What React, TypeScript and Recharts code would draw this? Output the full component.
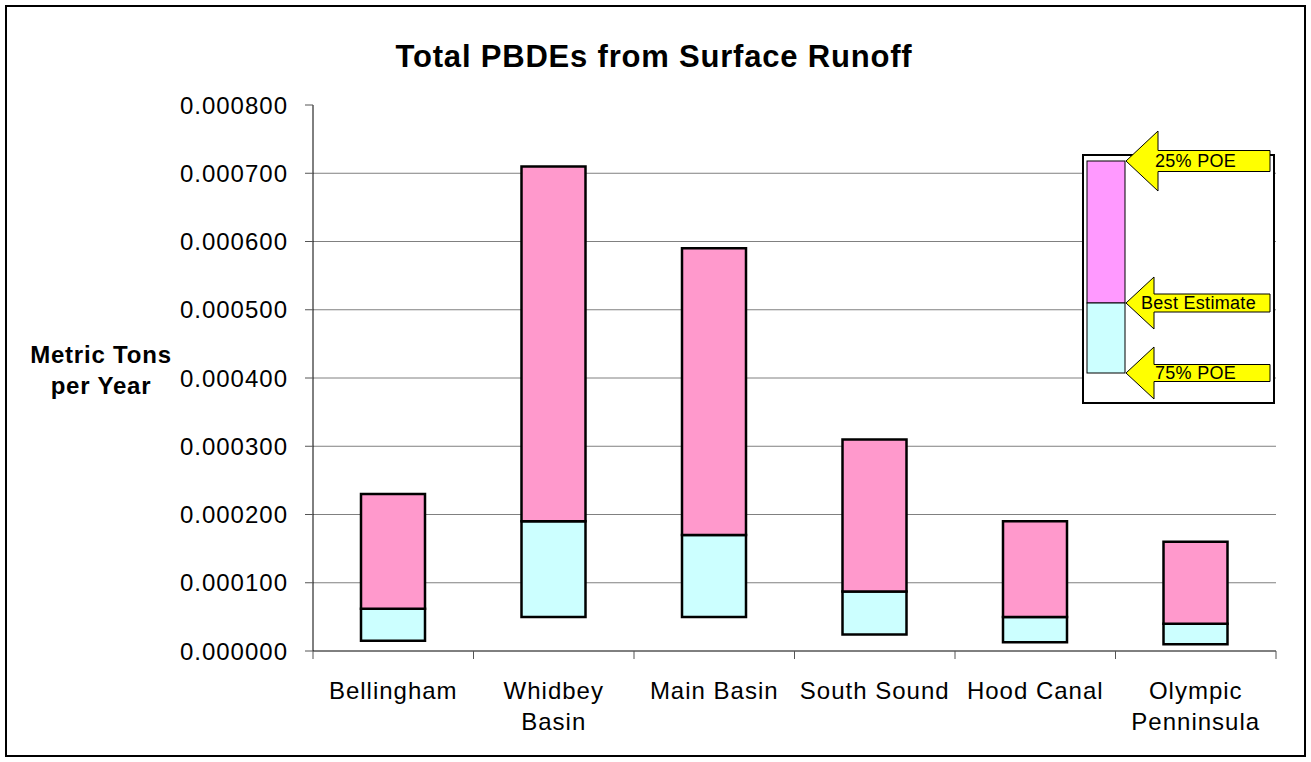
import React from 'react';
import { BarChart, Bar, XAxis, YAxis, CartesianGrid, Customized } from 'recharts';

// ---- data ----
const categories = ['Bellingham', 'Whidbey Basin', 'Main Basin', 'South Sound', 'Hood Canal', 'Olympic Penninsula'];
const tickLabelLines = [['Bellingham'], ['Whidbey', 'Basin'], ['Main Basin'], ['South Sound'], ['Hood Canal'], ['Olympic', 'Penninsula']];
const poe75 = [0.000015, 0.00005, 0.00005, 0.000024, 0.000013, 0.00001];
const bestEstimate = [0.000062, 0.00019, 0.00017, 0.000087, 0.00005, 0.00004];
const poe25 = [0.00023, 0.00071, 0.00059, 0.00031, 0.00019, 0.00016];
const yTicks = [0, 0.0001, 0.0002, 0.0003, 0.0004, 0.0005, 0.0006, 0.0007, 0.0008];
const gridValues = [0.0001, 0.0002, 0.0003, 0.0004, 0.0005, 0.0006, 0.0007];
const title = 'Total PBDEs from Surface Runoff';
const yLabelLines = ['Metric Tons', 'per Year'];
const legendLabels = ['25% POE', 'Best Estimate', '75% POE'];

const data = categories.map((name, i) => ({
  name,
  base: poe75[i],
  low: bestEstimate[i] - poe75[i],
  high: poe25[i] - bestEstimate[i],
}));

const FONT = '"Liberation Sans", Arial, Helvetica, sans-serif';
const PINK = '#FF99CC';
const CYAN = '#CCFFFF';
const LEGEND_PINK = '#FF99FF';
const YELLOW = '#FFFF00';
const TICK_COLOR = '#555555';

const XTick = (props: any) => {
  const { x, y, payload, index } = props;
  const half = payload && payload.offset ? payload.offset : 80.25;
  const idx = categories.indexOf(payload.value);
  const lines = tickLabelLines[idx >= 0 ? idx : index] || [String(payload.value)];
  return (
    <g>
      <line x1={x - half} y1={y} x2={x - half} y2={y + 8} stroke={TICK_COLOR} strokeWidth={1} />
      {idx === categories.length - 1 && (
        <line x1={x + half} y1={y} x2={x + half} y2={y + 8} stroke={TICK_COLOR} strokeWidth={1} />
      )}
      <text
        x={x}
        y={y + 48}
        textAnchor="middle"
        fill="#000"
        style={{ fontFamily: FONT, fontSize: 24, letterSpacing: 1 }}
      >
        {lines.map((l: string, i: number) => (
          <tspan key={i} x={x} dy={i === 0 ? 0 : 31}>
            {l}
          </tspan>
        ))}
      </text>
    </g>
  );
};

const YTick = (props: any) => {
  const { x, y, payload } = props;
  return (
    <text
      x={x}
      y={y}
      dy="0.36em"
      textAnchor="end"
      fill="#000"
      style={{ fontFamily: FONT, fontSize: 24, letterSpacing: 1 }}
    >
      {Number(payload.value).toFixed(6)}
    </text>
  );
};

const TitleAndLabel = () => (
  <g>
    <text
      x={654}
      y={67}
      textAnchor="middle"
      fill="#000"
      style={{ fontFamily: FONT, fontSize: 31, fontWeight: 'bold', letterSpacing: 0.8 }}
    >
      {title}
    </text>
    <text
      x={101}
      y={363}
      textAnchor="middle"
      fill="#000"
      style={{ fontFamily: FONT, fontSize: 24, fontWeight: 'bold', letterSpacing: 0.8 }}
    >
      {yLabelLines.map((l, i) => (
        <tspan key={i} x={101} dy={i === 0 ? 0 : 31}>
          {l}
        </tspan>
      ))}
    </text>
  </g>
);

const arrowPoints = (tipX: number, tipY: number, headX: number, headHalf: number, shaftHalf: number, endX: number) =>
  [
    [tipX, tipY],
    [headX, tipY - headHalf],
    [headX, tipY - shaftHalf],
    [endX, tipY - shaftHalf],
    [endX, tipY + shaftHalf],
    [headX, tipY + shaftHalf],
    [headX, tipY + headHalf],
  ]
    .map((p) => p.join(','))
    .join(' ');

const LegendBox = () => {
  const arrows = [
    { tipY: 161, headX: 1158, headHalf: 30, shaftHalf: 10.5, textX: 1155, label: legendLabels[0] },
    { tipY: 303, headX: 1154, headHalf: 26, shaftHalf: 9, textX: 1141, label: legendLabels[1] },
    { tipY: 373, headX: 1154, headHalf: 26, shaftHalf: 8.5, textX: 1155, label: legendLabels[2] },
  ];
  return (
    <g>
      <rect x={1083} y={155} width={191} height={248} fill="#fff" stroke="#000" strokeWidth={2} />
      <rect x={1087} y={161} width={38} height={142} fill={LEGEND_PINK} stroke="#000" strokeWidth={1} />
      <rect x={1087} y={303} width={38} height={70} fill={CYAN} stroke="#000" strokeWidth={1} />
      {arrows.map((a, i) => (
        <g key={i}>
          <polygon
            points={arrowPoints(1126, a.tipY, a.headX, a.headHalf, a.shaftHalf, 1270)}
            fill={YELLOW}
            stroke="#000"
            strokeWidth={1}
          />
          <text
            x={a.textX}
            y={a.tipY}
            dy="0.36em"
            fill="#000"
            style={{ fontFamily: FONT, fontSize: 18, letterSpacing: 0.3 }}
          >
            {a.label}
          </text>
        </g>
      ))}
    </g>
  );
};

export default function App() {
  return (
    <div style={{ position: 'absolute', left: 0, top: 0, width: 1311, height: 762, background: '#fff' }}>
      <div
        style={{
          position: 'absolute',
          left: 5,
          top: 5,
          width: 1297,
          height: 748,
          border: '2px solid #000',
        }}
      />
      <div style={{ position: 'absolute', left: 0, top: 0 }}>
        <BarChart
          width={1311}
          height={762}
          data={data}
          margin={{ top: 105, right: 35, bottom: 0, left: 0 }}
          barSize={64}
        >
          <CartesianGrid vertical={false} horizontalValues={gridValues} stroke="#808080" strokeWidth={1} />
          <XAxis
            dataKey="name"
            height={111}
            interval={0}
            tickLine={false}
            tickSize={0}
            tickMargin={0}
            axisLine={{ stroke: '#000', strokeWidth: 1 }}
            tick={<XTick />}
          />
          <YAxis
            width={313}
            domain={[0, 0.0008]}
            ticks={yTicks}
            interval={0}
            allowDataOverflow
            tickSize={8}
            tickMargin={17}
            tickLine={{ stroke: TICK_COLOR }}
            axisLine={{ stroke: '#000', strokeWidth: 1 }}
            tick={<YTick />}
          />
          <Bar dataKey="base" stackId="a" fill="transparent" stroke="none" isAnimationActive={false} />
          <Bar dataKey="low" stackId="a" fill={CYAN} stroke="#000" strokeWidth={2.5} isAnimationActive={false} />
          <Bar dataKey="high" stackId="a" fill={PINK} stroke="#000" strokeWidth={2.5} isAnimationActive={false} />
          <Customized component={<TitleAndLabel />} />
          <Customized component={<LegendBox />} />
        </BarChart>
      </div>
    </div>
  );
}
